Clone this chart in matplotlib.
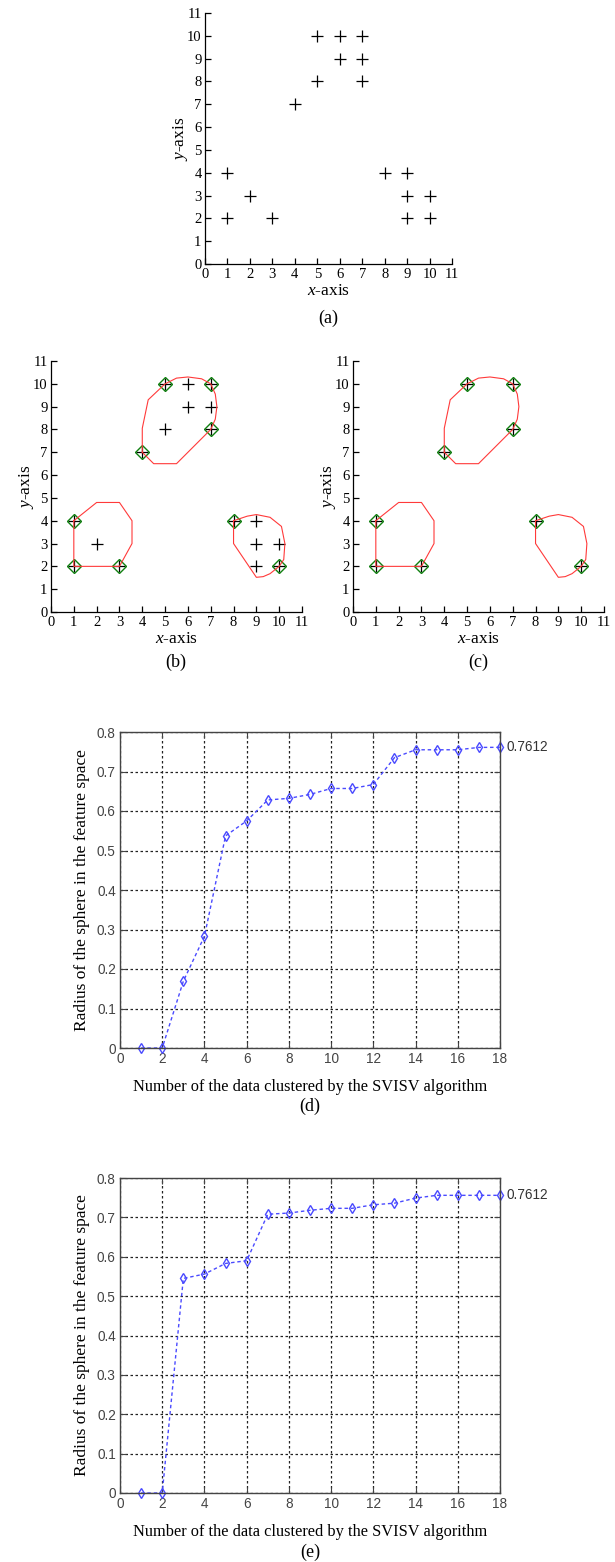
import matplotlib
matplotlib.use("Agg")
import matplotlib.pyplot as plt

plt.rcParams['font.family'] = ['Liberation Serif', 'DejaVu Serif']
plt.rcParams['mathtext.fontset'] = 'custom'
plt.rcParams['mathtext.rm'] = 'Liberation Serif'
plt.rcParams['mathtext.it'] = 'Liberation Serif:italic'

W, H = 615, 1562

# data points of the toy set
pts_x = [1, 1, 2, 3, 4, 5, 5, 6, 6, 7, 7, 7, 8, 9, 9, 9, 10, 10]
pts_y = [4, 2, 3, 2, 7, 10, 8, 10, 9, 10, 9, 8, 4, 4, 3, 2, 3, 2]

# support vectors (green diamonds)
sv_x = [1, 1, 3, 4, 5, 7, 7, 8, 10]
sv_y = [4, 2, 2, 7, 10, 10, 8, 4, 2]

# cluster boundaries (red contours)
c1_x = [1, 2, 3, 3.55, 3.55, 3, 1, 1]
c1_y = [4, 4.8, 4.8, 4, 3, 2, 2, 4]
c2_x = [4, 4, 4.26, 5, 5.5, 6, 6.6, 7, 7.2, 7.27, 7.2, 7, 5.5, 4.5, 4]
c2_y = [7, 8.05, 9.3, 10, 10.25, 10.3, 10.22, 10, 9.55, 9, 8.45, 8, 6.5, 6.5, 7]
c3_x = [8, 8.6, 9, 9.6, 10.1, 10.25, 10.2, 10, 9.6, 9.3, 9, 8, 8]
c3_y = [4, 4.2, 4.27, 4.15, 3.75, 3, 2.3, 2, 1.68, 1.55, 1.52, 3, 4]
contours = [(c1_x, c1_y), (c2_x, c2_y), (c3_x, c3_y)]

# radius curves
n_data = list(range(1, 19))
radius_d = [0, 0, 0.169, 0.283, 0.537, 0.575, 0.628, 0.632, 0.642, 0.657, 0.657, 0.667,
            0.735, 0.755, 0.755, 0.755, 0.761, 0.7612]
radius_e = [0, 0, 0.545, 0.556, 0.583, 0.590, 0.708, 0.711, 0.718, 0.723, 0.723, 0.732,
            0.736, 0.749, 0.756, 0.756, 0.756, 0.756]
end_label = '0.7612'


def px_axes(fig, x0, x1, y0, y1):
    return fig.add_axes([x0 / W, 1 - y1 / H, (x1 - x0) / W, (y1 - y0) / H])


def toy_axes(ax):
    ax.set_xlim(0, 11)
    ax.set_ylim(0, 11)
    ax.set_xticks(range(12))
    ax.set_yticks(range(12))
    for s in ['top', 'right']:
        ax.spines[s].set_visible(False)
    for s in ['left', 'bottom']:
        ax.spines[s].set_linewidth(0.9)
    ax.tick_params(direction='in', length=4, width=0.9, labelsize=10.5)
    ax.tick_params(axis='x', pad=3)
    ax.tick_params(axis='y', pad=2.5)
    ax.set_xlabel(r'$x$-axis', fontsize=12.5, labelpad=1)
    ax.set_ylabel(r'$y$-axis', fontsize=12.5, labelpad=-2)


def radius_axes(ax, vals):
    ax.plot(n_data, vals, linestyle=(0, (2.5, 2)), color='#4a4aff', linewidth=1.0,
            marker='d', markersize=5.5, markerfacecolor='none',
            markeredgecolor='#4a4aff', markeredgewidth=1.0, clip_on=False)
    ax.set_xlim(0, 18)
    ax.set_ylim(0, 0.8)
    ax.set_xticks(range(0, 19, 2))
    ax.set_yticks([i / 10 for i in range(9)])
    ax.set_xticklabels([str(v) for v in range(0, 19, 2)])
    ax.set_yticklabels(['0'] + ['%.1f' % (i / 10) for i in range(1, 9)])
    ax.grid(True, linestyle=(0, (2, 2)), color='#222222', linewidth=0.9)
    for s in ax.spines.values():
        s.set_color('#444444')
        s.set_linewidth(1.0)
    ax.tick_params(direction='in', length=4, top=True, right=True,
                   colors='#444444', labelsize=9.8, pad=3)
    for lab in ax.get_xticklabels() + ax.get_yticklabels():
        lab.set_family(['Liberation Sans', 'DejaVu Sans'])
    ax.text(18.3, vals[-1], end_label, fontsize=9.8, color='#333333', va='center',
            family=['Liberation Sans', 'DejaVu Sans'])
    ax.set_xlabel('Number of the data clustered by the SVISV algorithm', fontsize=11.8, labelpad=9)
    ax.set_ylabel('Radius of the sphere in the feature space', fontsize=12.5, labelpad=5)


fig = plt.figure(figsize=(W / 100, H / 100), dpi=100)

# (a)
ax_a = px_axes(fig, 205, 452, 13, 264)
ax_a.plot(pts_x, pts_y, '+', color='black', markersize=9, markeredgewidth=0.9)
toy_axes(ax_a)

# (b)
ax_b = px_axes(fig, 51, 302, 361, 612)
ax_b.plot(pts_x, pts_y, '+', color='black', markersize=9, markeredgewidth=0.9)
ax_b.plot(sv_x, sv_y, 'D', markersize=7, markerfacecolor='none',
          markeredgecolor='#108010', markeredgewidth=1.0)
for cx, cy in contours:
    ax_b.plot(cx, cy, color='#ff3a3a', linewidth=0.8)
toy_axes(ax_b)

# (c)
ax_c = px_axes(fig, 353, 604, 361, 612)
ax_c.plot(sv_x, sv_y, '+', color='black', markersize=9, markeredgewidth=0.9)
ax_c.plot(sv_x, sv_y, 'D', markersize=7, markerfacecolor='none',
          markeredgecolor='#108010', markeredgewidth=1.0)
for cx, cy in contours:
    ax_c.plot(cx, cy, color='#ff3a3a', linewidth=0.8)
toy_axes(ax_c)

# (d)
ax_d = px_axes(fig, 120, 500, 732, 1048)
radius_axes(ax_d, radius_d)

# (e)
ax_e = px_axes(fig, 120, 500, 1178, 1493)
radius_axes(ax_e, radius_e)

# captions
for lab, xc, yc in [('(a)', 328, 318), ('(b)', 176, 662), ('(c)', 478, 662),
                    ('(d)', 310, 1106), ('(e)', 310, 1552)]:
    fig.text(xc / W, 1 - yc / H, lab, ha='center', va='center', fontsize=13)

fig.savefig('out.png', dpi=100)
